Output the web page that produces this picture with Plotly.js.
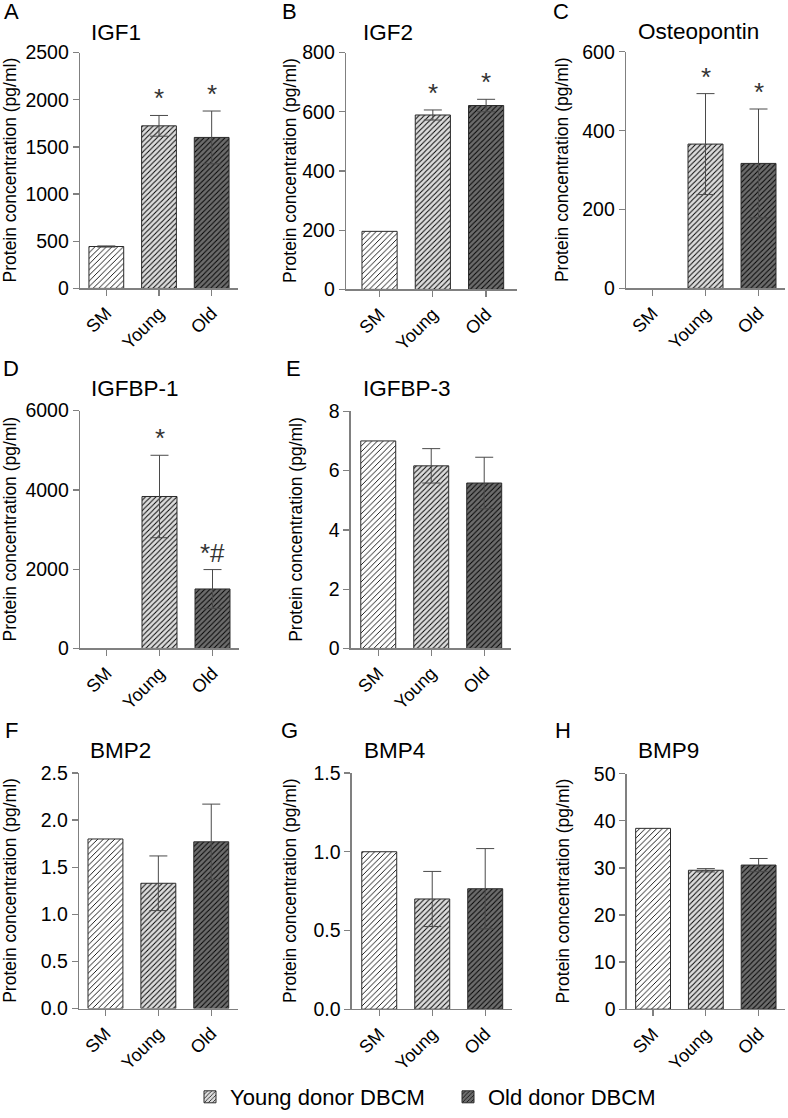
<!DOCTYPE html>
<html>
<head>
<meta charset="utf-8">
<script src="https://cdn.plot.ly/plotly-3.0.1.min.js"></script>
<style>
  html, body { margin: 0; padding: 0; background: #ffffff; }
  #chart { width: 788px; height: 1118px; }
</style>
</head>
<body>
<div id="chart"></div>
<script>
// ---------------- data ----------------
const categories = ['SM', 'Young', 'Old'];
const groupNames = ['SM', 'Young donor DBCM', 'Old donor DBCM'];

const igf1Mean = [444, 1723, 1600];
const igf1Err  = [6, 110, 280];
const igf1Sig  = ['', '*', '*'];

const igf2Mean = [196, 589, 621];
const igf2Err  = [0, 17, 21];
const igf2Sig  = ['', '*', '*'];

const opnMean = [0, 366, 317];
const opnErr  = [0, 128, 138];
const opnSig  = ['', '*', '*'];

const igfbp1Mean = [0, 3833, 1500];
const igfbp1Err  = [0, 1040, 490];
const igfbp1Sig  = ['', '*', '*#'];

const igfbp3Mean = [7.0, 6.16, 5.58];
const igfbp3Err  = [0, 0.58, 0.87];

const bmp2Mean = [1.80, 1.33, 1.77];
const bmp2Err  = [0, 0.29, 0.40];

const bmp4Mean = [1.0, 0.70, 0.765];
const bmp4Err  = [0, 0.175, 0.255];

const bmp9Mean = [38.4, 29.5, 30.6];
const bmp9Err  = [0, 0.35, 1.4];

const noSig = ['', '', ''];

// ---------------- layout helpers ----------------
const W = 788, H = 1118;
const px = x => x / W;
const py = y => 1 - y / H;
const FONT = 'Liberation Sans, Arial, Helvetica, sans-serif';

const barBg = ['#ffffff', '#dcdcdc', '#6c6c6c'];
const barPatternSize = [4, 3.7, 3.7];
const barSolidity = [0.22, 0.25, 0.25];

const panels = [
  {letter:'A', title:'IGF1', mean:igf1Mean, err:igf1Err, sig:igf1Sig, ymax:2500, dtick:500, fmt:'d',
   box:[80,238,53,291], xr:[-0.5,2.5], ytx:10, tx:116, ty:33, lx:11, ly:12},
  {letter:'B', title:'IGF2', mean:igf2Mean, err:igf2Err, sig:igf2Sig, ymax:800, dtick:200, fmt:'d',
   box:[346,517,53,292], xr:[-0.63,2.58], ytx:290, tx:388, ty:33, lx:289, ly:12},
  {letter:'C', title:'Osteopontin', mean:opnMean, err:opnErr, sig:opnSig, ymax:600, dtick:200, fmt:'d',
   box:[626,785,52.3,291], xr:[-0.5,2.5], ytx:562, tx:698, ty:32, lx:561, ly:12},
  {letter:'D', title:'IGFBP-1', mean:igfbp1Mean, err:igfbp1Err, sig:igfbp1Sig, ymax:6000, dtick:2000, fmt:'d',
   box:[80,239,414.3,654.3], xr:[-0.5,2.5], ytx:10, tx:135, ty:392, lx:11, ly:372},
  {letter:'E', title:'IGFBP-3', mean:igfbp3Mean, err:igfbp3Err, sig:noSig, ymax:8, dtick:2, fmt:'d',
   box:[350.7,510.7,415,654.3], xr:[-0.52,2.5], ytx:296, tx:407, ty:392, lx:293, ly:372},
  {letter:'F', title:'BMP2', mean:bmp2Mean, err:bmp2Err, sig:noSig, ymax:2.5, dtick:0.5, fmt:'.1f',
   box:[79,237.7,780,1017.7], xr:[-0.5,2.5], ytx:10, tx:120, ty:757, lx:11, ly:737},
  {letter:'G', title:'BMP4', mean:bmp4Mean, err:bmp4Err, sig:noSig, ymax:1.5, dtick:0.5, fmt:'.1f',
   box:[351.7,511.7,780,1018.3], xr:[-0.52,2.5], ytx:290, tx:394, ty:757, lx:289, ly:737},
  {letter:'H', title:'BMP9', mean:bmp9Mean, err:bmp9Err, sig:noSig, ymax:50, dtick:10, fmt:'d',
   box:[626.7,785,780.7,1018.3], xr:[-0.5,2.5], ytx:563, tx:668, ty:757, lx:563, ly:737}
];

const traces = [];
const annotations = [];
const layout = {
  width: W, height: H,
  margin: {l:0, r:0, t:0, b:0},
  paper_bgcolor: '#ffffff', plot_bgcolor: 'rgba(0,0,0,0)',
  font: {family: FONT, color: '#000', size: 17},
  barmode: 'overlay',
  showlegend: true,
  legend: {
    orientation: 'h', x: px(190), xanchor: 'left', y: py(1107), yanchor: 'middle',
    font: {family: FONT, size: 22, color: '#000'},
    bgcolor: 'rgba(0,0,0,0)', traceorder: 'normal',
    entrywidth: 213, entrywidthmode: 'pixels'
  }
};

panels.forEach((p, k) => {
  const n = k + 1;
  const xa = 'xaxis' + (n === 1 ? '' : n);
  const ya = 'yaxis' + (n === 1 ? '' : n);
  const xr = 'x' + (n === 1 ? '' : n);
  const yr = 'y' + (n === 1 ? '' : n);

  for (let i = 0; i < categories.length; i++) {
    const hasErr = p.err[i] > 0;
    const empty = p.mean[i] === 0;
    traces.push({
      type: 'bar',
      x: [categories[i]],
      y: [p.mean[i]],
      xaxis: xr, yaxis: yr,
      width: 0.66,
      name: groupNames[i],
      legendgroup: groupNames[i],
      showlegend: (k === 0 && i > 0),
      marker: {
        color: barBg[i],
        line: {color: '#2b2b2b', width: empty ? 0 : 1},
        pattern: {shape: '/', fgcolor: '#000000', bgcolor: barBg[i], size: barPatternSize[i], solidity: barSolidity[i], fillmode: 'replace'}
      },
      error_y: {type: 'data', array: [p.err[i]], visible: hasErr, color: '#4a4a4a', thickness: 1, width: 9},
      hoverinfo: 'skip'
    });
    if (p.sig[i]) {
      annotations.push({
        xref: xr, yref: yr, x: categories[i], y: p.mean[i] + p.err[i],
        text: p.sig[i], showarrow: false, yanchor: 'bottom', xanchor: 'center', yshift: 0,
        font: {family: FONT, size: 26, color: '#333333'}
      });
    }
  }

  layout[xa] = {
    domain: [px(p.box[0]), px(p.box[1])], anchor: yr,
    type: 'category', range: p.xr,
    showline: true, linecolor: '#808080', linewidth: 1.3,
    ticks: 'outside', ticklen: 6, tickcolor: '#808080', tickwidth: 1.3,
    tickangle: -45, tickfont: {family: FONT, size: 18, color: '#000'},
    showgrid: false, zeroline: false, fixedrange: true
  };
  layout[ya] = {
    domain: [py(p.box[3]), py(p.box[2])], anchor: xr,
    range: [0, p.ymax], dtick: p.dtick, tick0: 0, tickformat: p.fmt,
    showline: true, linecolor: '#808080', linewidth: 1.3,
    ticks: 'outside', ticklen: 6, tickcolor: '#808080', tickwidth: 1.3,
    tickfont: {family: FONT, size: 19.5, color: '#000'},
    showgrid: false, zeroline: false, fixedrange: true
  };

  // y axis title
  annotations.push({
    xref: 'paper', yref: 'paper', x: px(p.ytx), y: py((p.box[2] + p.box[3]) / 2),
    text: 'Protein concentration (pg/ml)', textangle: -90, showarrow: false,
    xanchor: 'center', yanchor: 'middle', font: {family: FONT, size: 17.5, color: '#000'}
  });
  // panel title
  annotations.push({
    xref: 'paper', yref: 'paper', x: px(p.tx), y: py(p.ty),
    text: p.title, showarrow: false, xanchor: 'center', yanchor: 'middle',
    font: {family: FONT, size: 22.5, color: '#000'}
  });
  // panel letter
  annotations.push({
    xref: 'paper', yref: 'paper', x: px(p.lx), y: py(p.ly),
    text: p.letter, showarrow: false, xanchor: 'center', yanchor: 'middle',
    font: {family: FONT, size: 22, color: '#000'}
  });
});

layout.annotations = annotations;

Plotly.newPlot('chart', traces, layout, {staticPlot: true, displayModeBar: false});
</script>
</body>
</html>
